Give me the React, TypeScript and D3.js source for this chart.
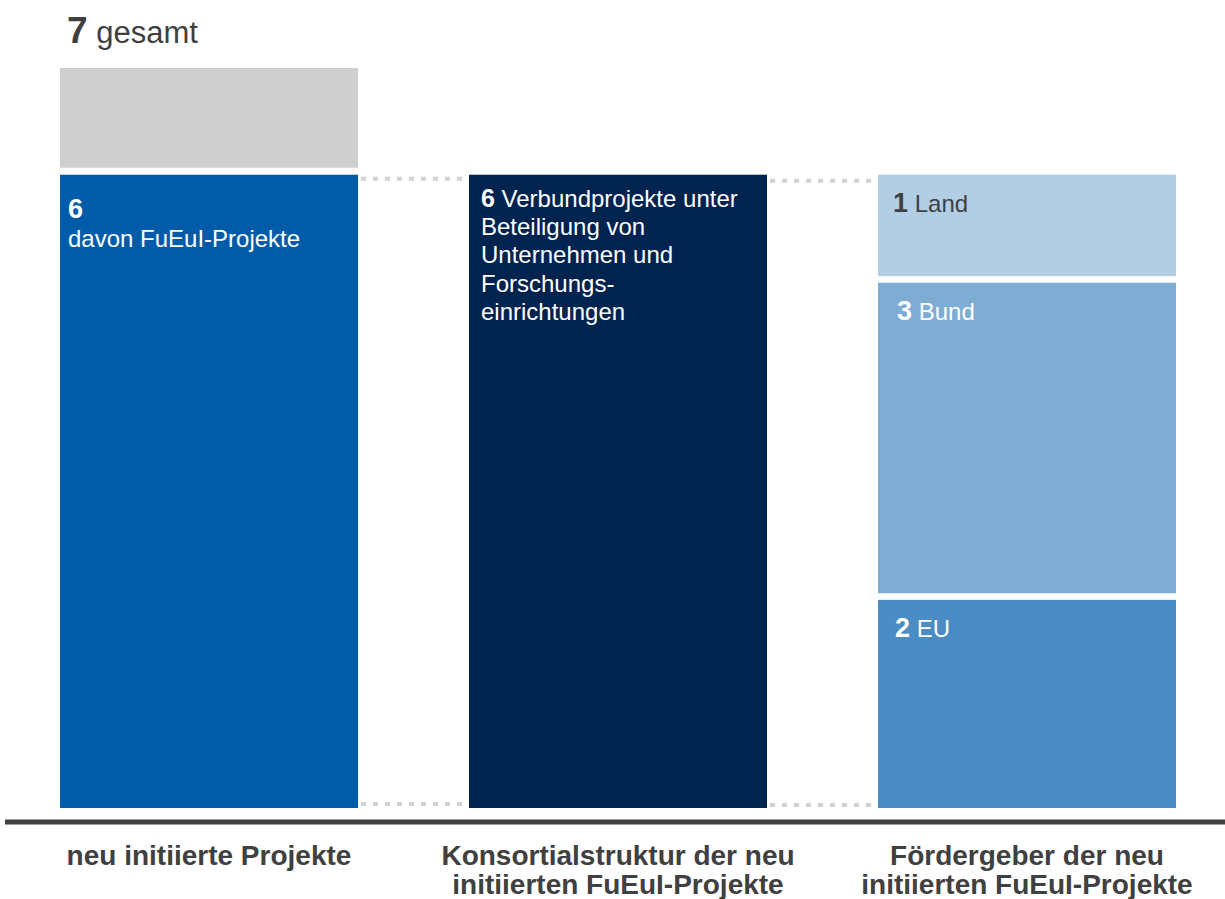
import React from "react";
import * as d3 from "d3";

// ---- Data ----
const categories = [
  "neu initiierte Projekte",
  "Konsortialstruktur der neu initiierten FuEuI-Projekte",
  "Fördergeber der neu initiierten FuEuI-Projekte",
];
const categoryLabelLines = [
  ["neu initiierte Projekte"],
  ["Konsortialstruktur der neu", "initiierten FuEuI-Projekte"],
  ["Fördergeber der neu", "initiierten FuEuI-Projekte"],
];
const totalProjects = 7;
const fueuiProjects = 6;
const verbundProjects = 6;
const funderNames = ["EU", "Bund", "Land"];
const funderValues = [2, 3, 1];
const verbundLabelLines = [
  "Verbundprojekte unter",
  "Beteiligung von",
  "Unternehmen und",
  "Forschungs-",
  "einrichtungen",
];

const W = 1225;
const H = 899;
const FONT = "'Liberation Sans', Arial, Helvetica, sans-serif";
const DARK = "#404040";
const DOT = "#d2d2d2";
const funderColors = ["#4a8cc3", "#7facd3", "#b2cee4"];
const funderTextColors = ["#ffffff", "#ffffff", DARK];
const funderTextDx = [17, 19, 15];

export default function App() {
  const x = d3
    .scaleBand<string>()
    .domain(categories)
    .range([60, 1176])
    .paddingInner(0.2714)
    .paddingOuter(0);
  const y = d3.scaleLinear().domain([0, totalProjects]).range([808, 68]);
  const bw = x.bandwidth();
  const gap = 3.3;

  const stack: { name: string; v: number; y0: number; y1: number; i: number }[] = [];
  let acc = 0;
  funderNames.forEach((n, i) => {
    stack.push({ name: n, v: funderValues[i], y0: acc, y1: acc + funderValues[i], i });
    acc += funderValues[i];
  });
  const stackTop = acc;

  const x0 = x(categories[0])!;
  const x1 = x(categories[1])!;
  const x2 = x(categories[2])!;

  const topY = y(fueuiProjects);
  const baseY = y(0);

  return (
    <svg
      width={W}
      height={H}
      style={{ position: "absolute", left: 0, top: 0, fontFamily: FONT }}
    >
      <rect width={W} height={H} fill="#ffffff" />

      {/* total header */}
      <text x={67} y={43} fill={DARK}>
        <tspan fontWeight="bold" fontSize={37}>{totalProjects}</tspan>
        <tspan fontSize={31}> gesamt</tspan>
      </text>

      {/* dotted connectors */}
      <line x1={x0 + bw + 3} x2={x1} y1={topY + 5} y2={topY + 5} stroke={DOT} strokeWidth={4} strokeDasharray="5 7" />
      <line x1={x0 + bw + 3} x2={x1} y1={baseY - 4} y2={baseY - 4} stroke={DOT} strokeWidth={4} strokeDasharray="5 7" />
      <line x1={x1 + bw + 3} x2={x2} y1={topY + 7} y2={topY + 7} stroke={DOT} strokeWidth={4} strokeDasharray="5 7" />
      <line x1={x1 + bw + 3} x2={x2} y1={baseY - 3} y2={baseY - 3} stroke={DOT} strokeWidth={4} strokeDasharray="5 7" />

      {/* bar 1: total (grey remainder) + FuEuI */}
      <rect x={x0} y={y(totalProjects)} width={bw} height={y(fueuiProjects) - y(totalProjects) - 6} fill="#d0cfd0" />
      <rect x={x0} y={y(fueuiProjects) + 1} width={bw} height={y(0) - y(fueuiProjects) - 1} fill="#005ca9" />
      <text x={x0 + 8} y={218} fill="#fff" fontWeight="bold" fontSize={27}>{fueuiProjects}</text>
      <text x={x0 + 8} y={247} fill="#fff" fontSize={24}>davon FuEuI-Projekte</text>

      {/* bar 2 */}
      <rect x={x1} y={y(verbundProjects) + 1} width={bw} height={y(0) - y(verbundProjects) - 1} fill="#00234f" />
      <text x={x1 + 12} y={207} fill="#fff" fontSize={24}>
        <tspan fontWeight="bold" fontSize={25}>{verbundProjects}</tspan>
        <tspan> {verbundLabelLines[0]}</tspan>
      </text>
      {verbundLabelLines.slice(1).map((l, i) => (
        <text key={l} x={x1 + 12} y={207 + 28.2 * (i + 1)} fill="#fff" fontSize={24}>{l}</text>
      ))}

      {/* bar 3: stacked funders */}
      {stack.map((s) => {
        const top = y(s.y1) + (s.y1 < stackTop ? gap : 1);
        const bottom = y(s.y0) - (s.y0 > 0 ? gap : 0);
        return (
          <g key={s.name}>
            <rect x={x2} y={top} width={bw} height={bottom - top} fill={funderColors[s.i]} />
            <text x={x2 + funderTextDx[s.i]} y={top + 37} fill={funderTextColors[s.i]} fontSize={24}>
              <tspan fontWeight="bold" fontSize={27}>{s.v}</tspan>
              <tspan> {s.name}</tspan>
            </text>
          </g>
        );
      })}

      {/* baseline */}
      <line x1={5} x2={W} y1={822} y2={822} stroke={DARK} strokeWidth={5} />

      {/* category labels */}
      {categories.map((c, i) => (
        <text
          key={c}
          x={x(c)! + bw / 2}
          y={865}
          textAnchor="middle"
          fill={DARK}
          fontWeight="bold"
          fontSize={28}
        >
          {categoryLabelLines[i].map((l, j) => (
            <tspan key={j} x={x(c)! + bw / 2} dy={j === 0 ? 0 : 29}>{l}</tspan>
          ))}
        </text>
      ))}
    </svg>
  );
}
